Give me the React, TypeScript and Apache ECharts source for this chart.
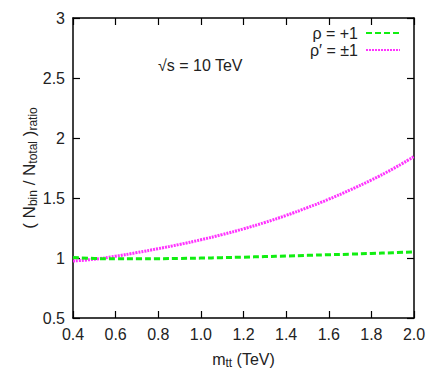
import React, { useEffect, useRef } from "react";
import * as echarts from "echarts";

const massTeV = [0.4, 0.5, 0.6, 0.7, 0.8, 0.9, 1.0, 1.1, 1.2, 1.3, 1.4, 1.5, 1.6, 1.7, 1.8, 1.9, 2.0];
const rhoPlusOne = [1.005, 0.996, 0.993, 0.993, 0.994, 0.996, 0.999, 1.003, 1.007, 1.012, 1.017, 1.022, 1.027, 1.032, 1.038, 1.044, 1.05];
const rhoPrimePM1 = [0.975, 0.99, 1.015, 1.045, 1.078, 1.113, 1.152, 1.195, 1.243, 1.296, 1.355, 1.42, 1.49, 1.567, 1.65, 1.742, 1.845];
const seriesNames = ["ρ = +1", "ρ′ = ±1"];
const xTicks = { min: 0.4, max: 2.0, interval: 0.2 };
const yTicks = { min: 0.5, max: 3.0, interval: 0.5 };

const FONT = "'Liberation Sans Narrow', 'Liberation Sans', Arial, sans-serif";
const TXT = "#222";

export default function App() {
  const ref = useRef<HTMLDivElement>(null);
  useEffect(() => {
    if (!ref.current) return;
    const chart = echarts.init(ref.current, undefined, { renderer: "svg" });
    const axisLine = { show: true, lineStyle: { color: "#000", width: 1.5 } };
    const axisTick = { show: true, inside: true, length: 7, lineStyle: { color: "#000", width: 1.2 } };
    chart.setOption({
      animation: false,
      backgroundColor: "#fff",
      textStyle: { fontFamily: FONT },
      grid: { left: 73, right: 17, top: 18, bottom: 64 },
      legend: {
        orient: "vertical",
        right: 25,
        top: 20,
        align: "right",
        itemWidth: 34,
        itemHeight: 14,
        itemGap: 1,
        itemStyle: { opacity: 0 },
        textStyle: { fontFamily: FONT, fontSize: 16, color: TXT, padding: [0, 3, 0, 0] },
        data: seriesNames,
      },
      xAxis: [
        {
          type: "value",
          position: "bottom",
          min: xTicks.min,
          max: xTicks.max,
          interval: xTicks.interval,
          axisLine,
          axisTick,
          splitLine: { show: false },
          axisLabel: {
            margin: 8,
            fontSize: 16,
            color: TXT,
            fontFamily: FONT,
            formatter: (v: number) => v.toFixed(1),
          },
          name: "m{sub|tt} (TeV)",
          nameLocation: "middle",
          nameGap: 31,
          nameTextStyle: {
            fontSize: 16,
            color: TXT,
            fontFamily: FONT,
            lineHeight: 20,
            verticalAlign: "top",
            rich: {
              sub: { fontSize: 12, fontFamily: FONT, color: TXT, lineHeight: 12, verticalAlign: "bottom" },
            },
          },
        },
        {
          type: "value",
          position: "top",
          min: xTicks.min,
          max: xTicks.max,
          interval: xTicks.interval,
          axisLine,
          axisTick,
          splitLine: { show: false },
          axisLabel: { show: false },
        },
      ],
      yAxis: [
        {
          type: "value",
          position: "left",
          min: yTicks.min,
          max: yTicks.max,
          interval: yTicks.interval,
          axisLine,
          axisTick,
          splitLine: { show: false },
          axisLabel: {
            margin: 8,
            fontSize: 16,
            color: TXT,
            fontFamily: FONT,
            formatter: (v: number) => (Number.isInteger(v) ? String(v) : v.toFixed(1)),
          },
          name: "( N{sub|bin} / N{sub|total} ){sub|ratio}",
          nameLocation: "middle",
          nameRotate: 90,
          nameGap: 54,
          nameMoveOverlap: false,
          nameTextStyle: {
            fontSize: 17,
            color: TXT,
            fontFamily: FONT,
            lineHeight: 20,
            verticalAlign: "top",
            rich: {
              sub: { fontSize: 12, fontFamily: FONT, color: TXT, lineHeight: 12, verticalAlign: "bottom" },
            },
          },
        },
        {
          type: "value",
          position: "right",
          min: yTicks.min,
          max: yTicks.max,
          interval: yTicks.interval,
          axisLine,
          axisTick,
          splitLine: { show: false },
          axisLabel: { show: false },
        },
      ],
      graphic: [
        {
          type: "text",
          left: 158,
          top: 57,
          style: { text: "√s = 10 TeV", fontSize: 16, fontFamily: FONT, fill: TXT },
        },
      ],
      series: [
        {
          name: seriesNames[0],
          type: "line",
          symbol: "none",
          smooth: true,
          data: massTeV.map((m, i) => [m, rhoPlusOne[i]]),
          lineStyle: { color: "#11ee11", width: 3, type: [6, 3] },
          itemStyle: { color: "#11ee11" },
          z: 3,
        },
        {
          name: seriesNames[1],
          type: "line",
          symbol: "none",
          smooth: true,
          data: massTeV.map((m, i) => [m, rhoPrimePM1[i]]),
          lineStyle: { color: "#ff33ff", width: 3, type: [2, 1] },
          itemStyle: { color: "#ff33ff" },
          z: 2,
        },
      ],
    });
    return () => chart.dispose();
  }, []);
  return (
    <div
      ref={ref}
      style={{ position: "fixed", left: 0, top: 0, width: 431, height: 382, background: "#fff" }}
    />
  );
}
